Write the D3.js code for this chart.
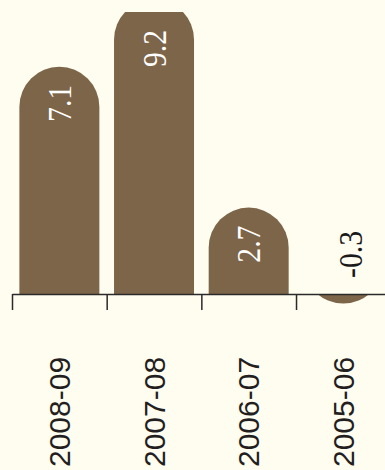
<!DOCTYPE html>
<html>
<head>
<meta charset="utf-8">
<script src="https://cdn.jsdelivr.net/npm/d3@7"></script>
<style>
  html, body { margin: 0; padding: 0; background: #fffcf0; }
  svg { display: block; }
  .value-label { font-family: "Liberation Serif", "Times New Roman", serif; }
  .cat-label { font-family: "Liberation Sans", Arial, sans-serif; }
</style>
</head>
<body>
<div id="chart"></div>
<script>
// data
const years = ["2008-09", "2007-08", "2006-07", "2005-06"]
const growth = [7.1, 9.2, 2.7, -0.3]

const width = 385, height = 470
const baseY = 294, topClip = 12
const radius = 40

const svg = d3.select("#chart").append("svg")
    .attr("width", width)
    .attr("height", height)

const xScale = d3.scaleBand()
    .domain(years)
    .range([12, 390.7])
    .paddingInner(0.155)
    .paddingOuter(0.078)

const yScale = d3.scaleLinear()
    .domain([0, 9.2])
    .range([baseY, baseY - 9.2 * 32])

// clip regions: above axis for positive bars, below for negative
const defs = svg.append("defs")
defs.append("clipPath").attr("id", "clip-pos")
    .append("rect")
    .attr("x", 0).attr("y", topClip)
    .attr("width", width).attr("height", baseY - topClip)
defs.append("clipPath").attr("id", "clip-neg")
    .append("rect")
    .attr("x", 0).attr("y", baseY)
    .attr("width", width).attr("height", height - baseY)

const rows = years.map((d, i) => ({ year: d, value: growth[i] }))

// rounded bars
svg.selectAll(".bar")
    .data(rows)
    .join("rect")
    .attr("class", "bar")
    .attr("x", d => xScale(d.year))
    .attr("width", xScale.bandwidth())
    .attr("y", d => d.value >= 0 ? yScale(d.value) : yScale(d.value) - 120)
    .attr("height", d => d.value >= 0 ? baseY - yScale(d.value) + 120 : 120)
    .attr("rx", radius)
    .attr("ry", radius)
    .attr("clip-path", d => d.value >= 0 ? "url(#clip-pos)" : "url(#clip-neg)")
    .attr("fill", "#7d6549")

// axis with ticks on band edges
const edge = d3.scaleLinear().domain([0, years.length]).range(xScale.range())
const xAxis = d3.axisBottom(edge)
    .tickValues(d3.range(years.length))
    .tickSize(16)
    .tickSizeOuter(0)
    .tickFormat("")

const xGroup = svg.append("g")
    .attr("class", "x-axis")
    .attr("transform", `translate(0, ${baseY})`)
    .call(xAxis)
xGroup.select(".domain").attr("stroke", "#2a2a2a").attr("stroke-width", 1.5)
xGroup.selectAll(".tick line").attr("stroke", "#2a2a2a").attr("stroke-width", 1.5)

// value labels
svg.selectAll(".value-label")
    .data(rows)
    .join("text")
    .attr("class", "value-label")
    .attr("transform", d => {
        const cx = xScale(d.year) + xScale.bandwidth() / 2 + (d.value < 0 ? 7 : 0)
        const y = d.value >= 0 ? Math.max(yScale(d.value), topClip) + 18 : baseY - 16
        return `translate(${cx},${y}) rotate(-90) scale(0.9,1)`
    })
    .attr("dy", "0.35em")
    .attr("text-anchor", d => d.value >= 0 ? "end" : "start")
    .attr("font-size", 33)
    .attr("fill", d => d.value >= 0 ? "#ffffff" : "#1a1a1a")
    .text(d => d.value)

// category labels
svg.selectAll(".cat-label")
    .data(years)
    .join("text")
    .attr("class", "cat-label")
    .attr("transform", d => `translate(${xScale(d) + xScale.bandwidth() / 2},467) rotate(-90)`)
    .attr("dy", "0.36em")
    .attr("text-anchor", "start")
    .attr("font-size", 30)
    .attr("fill", "#231f20")
    .text(d => d)
</script>
</body>
</html>
